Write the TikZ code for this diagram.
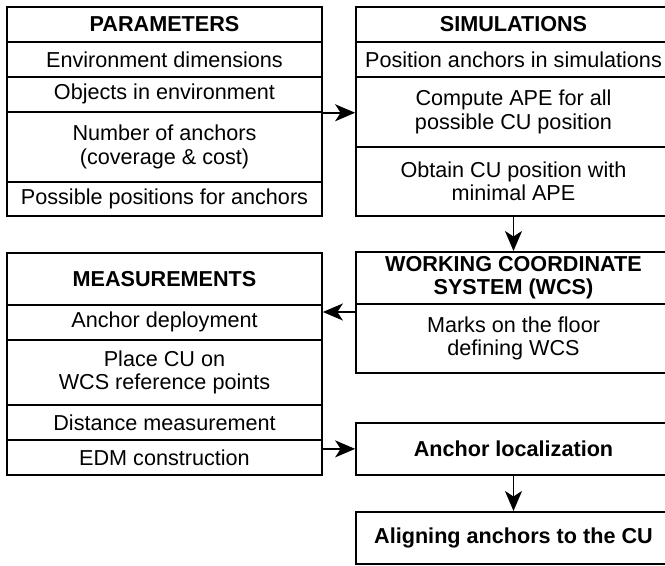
\documentclass[tikz,border=0pt]{standalone}
\usepackage{fontspec}
\setmainfont{Liberation Sans}
\usepackage{tikz}
\usetikzlibrary{arrows.meta,shapes,positioning}

\begin{document}
\begin{tikzpicture}
			[cell/.style={rectangle, draw, line width=1pt, anchor=north, minimum width=6.3cm, minimum height=#1, inner sep=0, align=center},
			cell/.default=0.7cm,
			head/.style={cell=#1, font=\bfseries\fontsize{12.3}{13.4}\selectfont},
			head/.default=0.7cm,
			font=\fontsize{12.3}{13.4}\selectfont]
			\useasboundingbox (0,0) rectangle (13.3,-11.32);
			\node[head] (ptitle) at (3.29, -0.12) {PARAMETERS};
			\node[cell] (penv) at (3.29, -0.82) {Environment dimensions};
			\node[cell] (pobj) at (3.29, -1.52) {Objects in environment};
			\node[cell=1.4cm] (pnum) at (3.29, -2.22) {Number of anchors\\(coverage \& cost)};
			\node[cell=0.68cm] (ppos) at (3.29, -3.62) {Possible positions for anchors};

			\node[head] (stitle) at (10.27, -0.12) {SIMULATIONS};
			\node[cell] (spos) at (10.27, -0.82) {Position anchors in simulations};
			\node[cell=1.4cm] (sape) at (10.27, -1.52) {Compute APE for all\\possible CU position};
			\node[cell=1.38cm] (sobt) at (10.27, -2.92) {Obtain CU position with\\minimal APE};

			\node[head=1.04cm] (wcst) at (10.27, -5.02) {WORKING COORDINATE\\SYSTEM (WCS)};
			\node[cell=1.38cm] (wcsb) at (10.27, -6.06) {Marks on the floor\\defining WCS};

			\node[head=1.04cm] (mtitle) at (3.29, -5.04) {MEASUREMENTS};
			\node[cell] (mdep) at (3.29, -6.08) {Anchor deployment};
			\node[cell=1.3cm] (mcu) at (3.29, -6.78) {Place CU on\\WCS reference points};
			\node[cell] (mdist) at (3.29, -8.08) {Distance measurement};
			\node[cell] (medm) at (3.29, -8.78) {EDM construction};

			\node[head=1.04cm] (aloc) at (10.27, -8.44) {Anchor localization};
			\node[head=1.04cm] (align) at (10.27, -10.22) {Aligning anchors to the CU};

			\coordinate (wcsout) at ([yshift=-0.18cm]wcsb.north west);

			\draw[-{Stealth[length=0.4cm, width=0.34cm, inset=0.11cm]}, line width=1pt] (pobj.south east) -- (pobj.south east -| sape.west);
			\draw[-{Stealth[length=0.4cm, width=0.34cm, inset=0.11cm]}, line width=1pt] (sobt.south) -- (wcst.north);
			\draw[-{Stealth[length=0.4cm, width=0.34cm, inset=0.11cm]}, line width=1pt] (wcsout) -- (wcsout -| mdep.east);
			\draw[-{Stealth[length=0.4cm, width=0.34cm, inset=0.11cm]}, line width=1pt] (aloc.west -| medm.east) -- (aloc.west);
			\draw[-{Stealth[length=0.4cm, width=0.34cm, inset=0.11cm]}, line width=1pt] (aloc.south) -- (align.north);
			\end{tikzpicture}
\end{document}
